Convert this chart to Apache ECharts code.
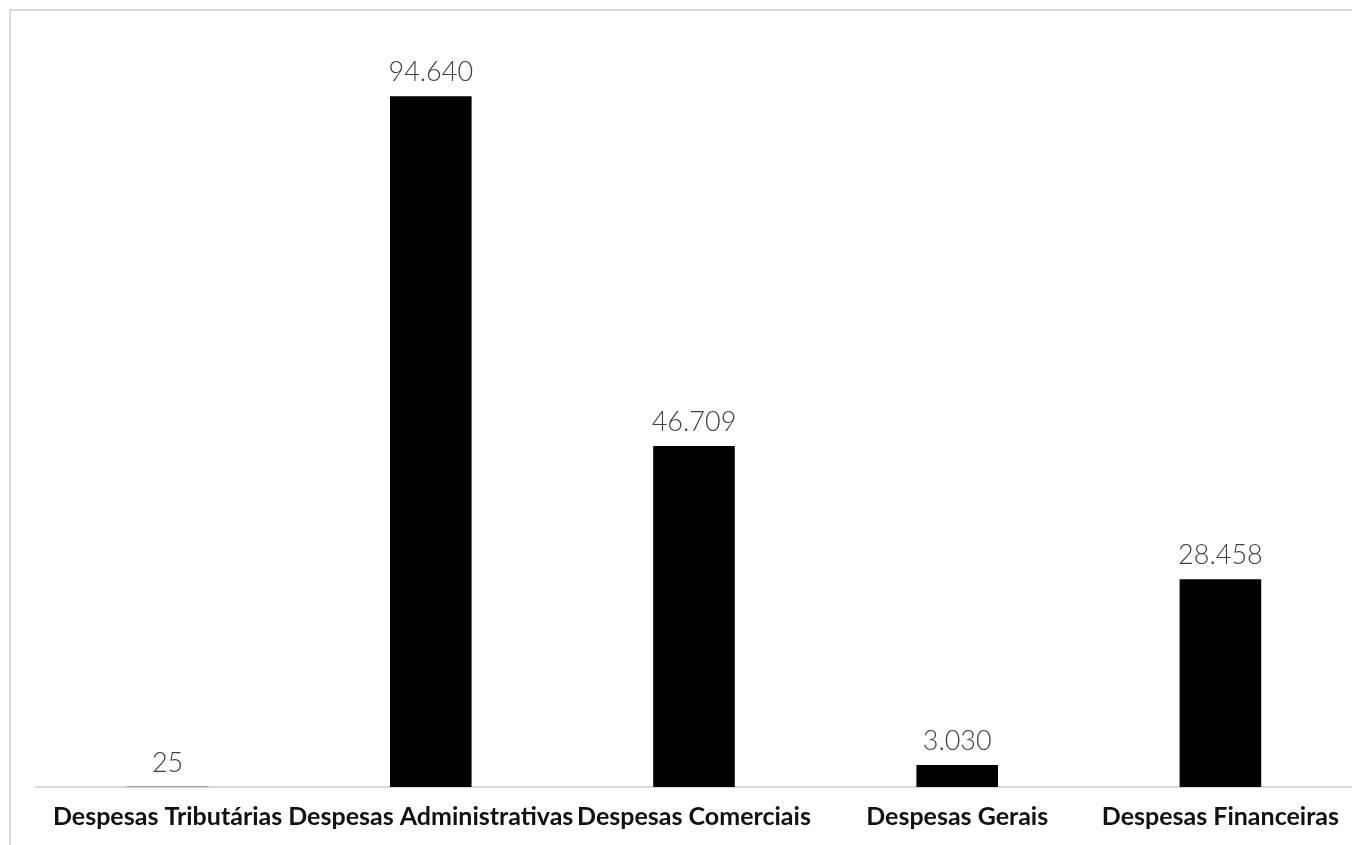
<!DOCTYPE html>
<html><head><meta charset="utf-8">
<script src="https://cdn.jsdelivr.net/npm/echarts@6/dist/echarts.min.js"></script>
<style>html,body{margin:0;padding:0;background:#fff}#c{width:1352px;height:845px}</style>
</head><body><div id="c"></div>
<script>
const categories = ['Despesas Tributárias','Despesas Administrativas','Despesas Comerciais','Despesas Gerais','Despesas Financeiras'];
const values = [25, 94640, 46709, 3030, 28458];

const chart = echarts.init(document.getElementById('c'));
chart.setOption({
  animation: false,
  graphic: [{type:'rect', shape:{x:10,y:10,width:1400,height:900}, style:{fill:'none', stroke:'#d9d9d9', lineWidth:2}, silent:true}],
  grid: {left: 36, right: 0, top: 57, bottom: 58},
  xAxis: {
    type: 'category', data: categories,
    axisLine: {lineStyle:{color:'#d9d9d9', width:2}},
    axisTick: {show:false},
    axisLabel: {interval:0, margin:17, color:'#111', fontFamily:'Lato', fontWeight:'bold', fontSize:25}
  },
  yAxis: {type:'value', min:0, max:100000, show:false, splitLine:{show:false}},
  series: [{
    type:'bar', data: values, barWidth:'31%', itemStyle:{color:'#000'},
    label:{show:true, position:'top', distance:10, color:'#404040', fontFamily:'Lato', fontWeight:300, fontSize:27,
      formatter: p => p.value.toLocaleString('de-DE')}
  }]
});
</script></body></html>
